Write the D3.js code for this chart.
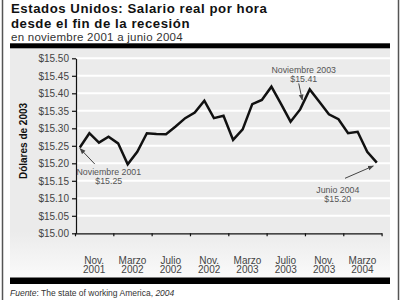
<!DOCTYPE html>
<html>
<head>
<meta charset="utf-8">
<script src="https://d3js.org/d3.v7.min.js"></script>
<style>
  body { margin: 0; background: #fff; }
  svg { display: block; font-family: "Liberation Sans", Arial, Helvetica, sans-serif; }
</style>
</head>
<body>
<div id="chart"></div>
<script>
// monthly real hourly wage, 2003 dollars
var months = ["Nov 2001", "Dic 2001",
    "Ene 2002", "Feb 2002", "Mar 2002", "Abr 2002", "May 2002", "Jun 2002",
    "Jul 2002", "Ago 2002", "Sep 2002", "Oct 2002", "Nov 2002", "Dic 2002",
    "Ene 2003", "Feb 2003", "Mar 2003", "Abr 2003", "May 2003", "Jun 2003",
    "Jul 2003", "Ago 2003", "Sep 2003", "Oct 2003", "Nov 2003", "Dic 2003",
    "Ene 2004", "Feb 2004", "Mar 2004", "Abr 2004", "May 2004", "Jun 2004"];

var wages = [15.245, 15.286, 15.259, 15.276, 15.257, 15.197, 15.233, 15.286,
    15.284, 15.283, 15.305, 15.329, 15.345, 15.379, 15.329, 15.336,
    15.267, 15.297, 15.369, 15.381, 15.419, 15.370, 15.319, 15.354,
    15.411, 15.376, 15.340, 15.326, 15.286, 15.290, 15.233, 15.202];

var tickLabels = [["Nov.", "2001"], ["Marzo", "2002"], ["Julio", "2002"], ["Nov.", "2002"],
    ["Marzo", "2003"], ["Julio", "2003"], ["Nov.", "2003"], ["Marzo", "2004"]];

var yTicks = [15.00, 15.05, 15.10, 15.15, 15.20, 15.25, 15.30, 15.35, 15.40, 15.45, 15.50];

var notes = [
    { month: "Nov 2001", text: ["Noviembre 2001", "$15.25"] },
    { month: "Nov 2003", text: ["Noviembre 2003", "$15.41"] },
    { month: "Jun 2004", text: ["Junio 2004", "$15.20"] }
];

var width = 400, height = 300;
var plot = { left: 75, right: 381.6, top: 58.3, bottom: 233.3 };

var svg = d3.select("#chart")
    .append("svg")
    .attr("width", width)
    .attr("height", height);

var defs = svg.append("defs");
var grad = defs.append("linearGradient")
    .attr("id", "panelFill")
    .attr("x1", 0).attr("y1", 0).attr("x2", 0).attr("y2", 1);
grad.append("stop").attr("offset", "0.8").attr("stop-color", "#ebebeb");
grad.append("stop").attr("offset", "1").attr("stop-color", "#fafafa");

defs.append("marker")
    .attr("id", "arrow")
    .attr("viewBox", "0 0 10 10")
    .attr("refX", 9).attr("refY", 5)
    .attr("markerWidth", 6).attr("markerHeight", 6)
    .attr("orient", "auto")
    .append("path")
    .attr("d", "M0,1L10,5L0,9Z")
    .attr("fill", "#444");

// frame
svg.append("line").attr("x1", 2.5).attr("x2", 2.5).attr("y1", 0).attr("y2", height)
    .attr("stroke", "#555").attr("stroke-width", 1.5);
svg.append("line").attr("x1", 398.5).attr("x2", 398.5).attr("y1", 0).attr("y2", height)
    .attr("stroke", "#555").attr("stroke-width", 1.5);

svg.append("rect")
    .attr("x", 10).attr("y", 48)
    .attr("width", 380).attr("height", 229.5)
    .attr("fill", "url(#panelFill)");
svg.append("rect").attr("x", 10).attr("y", 43.3).attr("width", 380).attr("height", 5).attr("fill", "#000");
svg.append("rect").attr("x", 10).attr("y", 277.5).attr("width", 380).attr("height", 6.5).attr("fill", "#000");

// titles
svg.append("text").attr("x", 11).attr("y", 12.5)
    .style("font-size", "13.2px").style("font-weight", "bold").style("letter-spacing", "0.55px")
    .attr("fill", "#111")
    .text("Estados Unidos: Salario real por hora");
svg.append("text").attr("x", 11).attr("y", 27.5)
    .style("font-size", "13.2px").style("font-weight", "bold").style("letter-spacing", "0.55px")
    .attr("fill", "#111")
    .text("desde el fin de la recesión");
svg.append("text").attr("x", 11).attr("y", 41)
    .style("font-size", "11.5px").style("letter-spacing", "0.25px").attr("fill", "#333")
    .text("en noviembre 2001 a junio 2004");

// scales
var x = d3.scaleBand()
    .domain(months)
    .range([plot.left, plot.right]);

var xEdge = d3.scaleLinear()
    .domain([0, months.length])
    .range([plot.left, plot.right]);

var y = d3.scaleLinear()
    .domain([15.00, 15.50])
    .range([plot.bottom, plot.top]);

// white grid lines
svg.append("g")
    .selectAll("line")
    .data(yTicks.slice(1))
    .enter()
    .append("line")
    .attr("x1", plot.left + 1).attr("x2", 390)
    .attr("y1", function (d) { return y(d); })
    .attr("y2", function (d) { return y(d); })
    .attr("stroke", "#fff")
    .attr("stroke-width", 2);

// y axis
var yAxis = svg.append("g")
    .attr("transform", "translate(" + (plot.left + 1) + ",0)")
    .call(d3.axisLeft(y)
        .tickValues(yTicks)
        .tickSize(4)
        .tickSizeOuter(0)
        .tickPadding(3)
        .tickFormat(function (d) { return "$" + d3.format(".2f")(d); }));
yAxis.selectAll("text").style("font-size", "10px").attr("fill", "#444")
    .style("font-family", "'Liberation Sans', Arial, sans-serif");
yAxis.selectAll("line, path").attr("stroke", "#111").attr("stroke-width", 1.2);

svg.append("text")
    .attr("transform", "translate(23," + 141 + ") rotate(-90)")
    .attr("text-anchor", "middle")
    .attr("dy", "0.35em")
    .style("font-size", "10px").style("font-weight", "bold").attr("fill", "#111")
    .text("Dólares de 2003");

// x axis: ticks on 4-month boundaries, labels in between
var xAxis = svg.append("g")
    .attr("transform", "translate(0," + plot.bottom + ")")
    .call(d3.axisBottom(xEdge)
        .tickValues(d3.range(0, months.length + 1, 4))
        .tickSize(3)
        .tickSizeOuter(0)
        .tickFormat(""));
xAxis.selectAll("line, path").attr("stroke", "#111").attr("stroke-width", 1.2);

var xl = svg.append("g")
    .selectAll("text")
    .data(tickLabels)
    .enter()
    .append("text")
    .attr("text-anchor", "middle")
    .style("font-size", "10px")
    .attr("fill", "#444")
    .attr("transform", function (d, i) { return "translate(" + xEdge(i * 4 + 2) + ",0)"; });
xl.append("tspan").attr("x", 0).attr("y", 263.5).text(function (d) { return d[0]; });
xl.append("tspan").attr("x", 0).attr("y", 273).text(function (d) { return d[1]; });

// wage line
var cx = function (m) { return x(m) + x.bandwidth() / 2; };

svg.append("path")
    .datum(wages)
    .attr("d", d3.line()
        .x(function (d, i) { return cx(months[i]); })
        .y(function (d) { return y(d); }))
    .attr("fill", "none")
    .attr("stroke", "#111")
    .attr("stroke-width", 2.5)
    .attr("stroke-linejoin", "miter");

// annotations: arrow tip, arrow tail and text relative to the point
var layout = [
    { tip: [0.2, 1], tail: [15, 16.5], tx: 29, ty: 27.5 },
    { tip: [-7.5, 10.5], tail: [-11, -6], tx: -6, ty: -16.8 },
    { tip: [-3.5, 3.4], tail: [-31.8, 15.7], tx: -39, ty: 30.5 }
];

notes.forEach(function (n, k) {
    var px = cx(n.month), py = y(wages[months.indexOf(n.month)]);
    var l = layout[k];
    svg.append("line")
        .attr("x1", px + l.tail[0]).attr("y1", py + l.tail[1])
        .attr("x2", px + l.tip[0]).attr("y2", py + l.tip[1])
        .attr("stroke", "#444").attr("stroke-width", 1)
        .attr("marker-end", "url(#arrow)");
    var t = svg.append("text")
        .attr("text-anchor", "middle")
        .style("font-size", "8.8px")
        .attr("fill", "#555");
    n.text.forEach(function (s, j) {
        t.append("tspan").attr("x", px + l.tx).attr("y", py + l.ty + j * 9).text(s);
    });
});

// source
var src = svg.append("text").attr("x", 10).attr("y", 296)
    .style("font-size", "8.5px").attr("fill", "#333");
src.append("tspan").style("font-style", "italic").text("Fuente");
src.append("tspan").text(": The state of working America, ");
src.append("tspan").style("font-style", "italic").text("2004");
</script>
</body>
</html>
